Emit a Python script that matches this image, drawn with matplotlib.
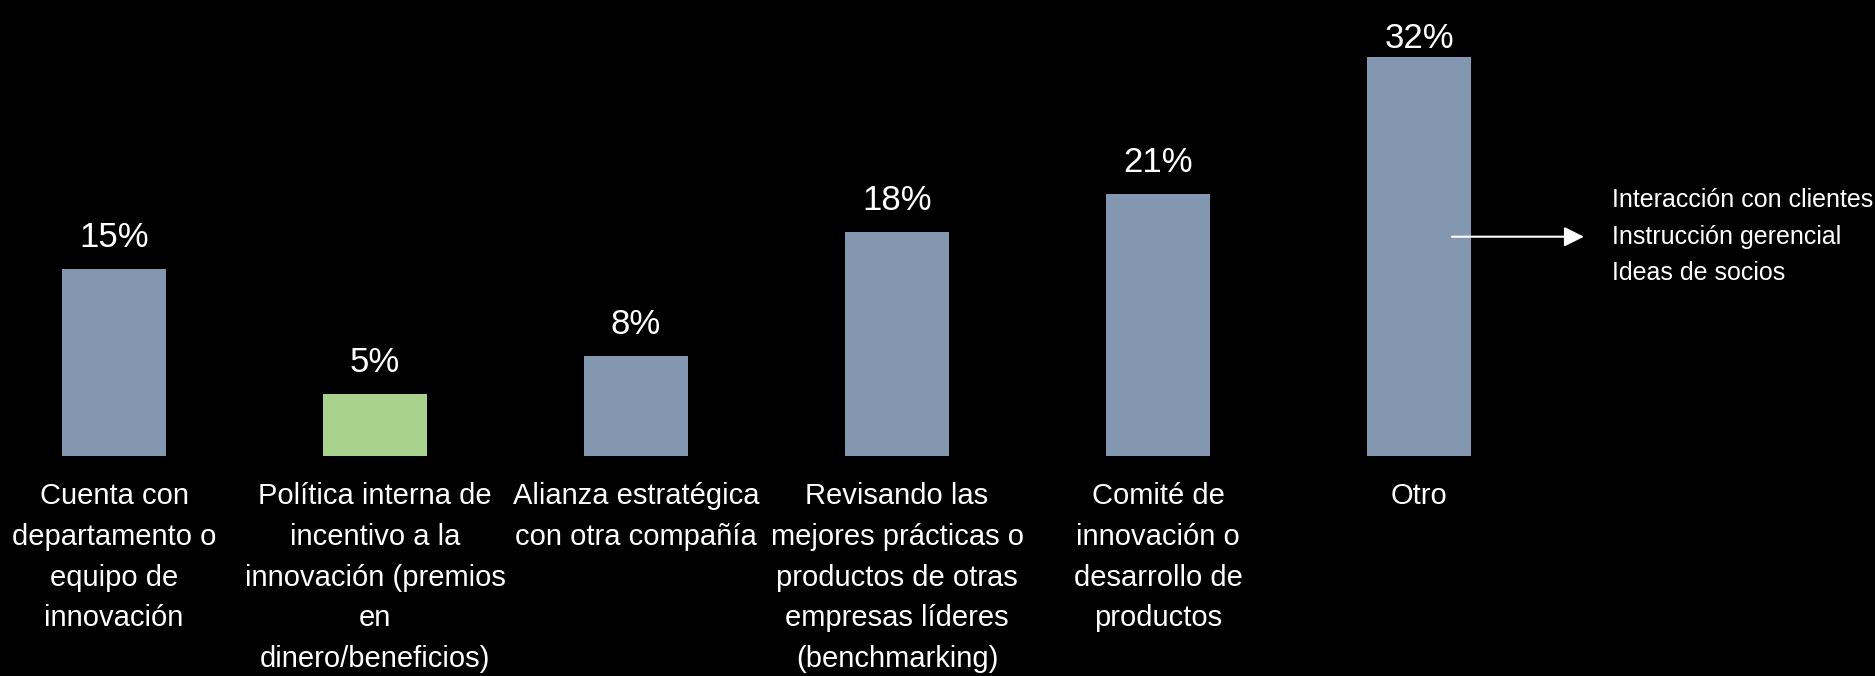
import matplotlib
matplotlib.use("Agg")
import matplotlib.pyplot as plt
from matplotlib import font_manager

categories = [
    "Cuenta con\ndepartamento o\nequipo de\ninnovación",
    "Política interna de\nincentivo a la\ninnovación (premios\nen\ndinero/beneficios)",
    "Alianza estratégica\ncon otra compañía",
    "Revisando las\nmejores prácticas o\nproductos de otras\nempresas líderes\n(benchmarking)",
    "Comité de\ninnovación o\ndesarrollo de\nproductos",
    "Otro",
]
values = [15, 5, 8, 18, 21, 32]
value_labels = ["15%", "5%", "8%", "18%", "21%", "32%"]
otro_details = ["Interacción con clientes", "Instrucción gerencial", "Ideas de socios"]

names = {f.name for f in font_manager.fontManager.ttflist}
fam = "Liberation Sans Narrow" if "Liberation Sans Narrow" in names else "Liberation Sans"
plt.rcParams["font.family"] = [fam, "DejaVu Sans"]

blue = "#8497B0"
green = "#A9D18E"
colors = [blue, green, blue, blue, blue, blue]

fig = plt.figure(figsize=(18.75, 6.76), dpi=100, facecolor="black")
ax = fig.add_axes([0, 0, 1, 1], facecolor="black")
x = list(range(len(categories)))
ax.bar(x, values, width=0.4, color=colors, edgecolor="none")

x0 = -114 / 261
ax.set_xlim(x0, x0 + 1875 / 261)
ax.set_ylim(-220 / 12.46, 456 / 12.46)
ax.axis("off")

vlabels = []
for xi, v, lab in zip(x, values, value_labels):
    t = ax.annotate(lab, xy=(xi, v), xytext=(0, 15), textcoords="offset pixels",
                    ha="center", va="bottom", color="white", fontsize=25)
    vlabels.append(t)

# keep value labels inside the top margin (as in the original slide)
fig.canvas.draw()
renderer = fig.canvas.get_renderer()
H = fig.bbox.height
for t in vlabels:
    bb = t.get_window_extent(renderer)
    limit = H - 22
    if bb.y1 > limit:
        dy = bb.y1 - limit
        ox, oy = t.xyann
        t.xyann = (ox, oy - dy)

for xi, cat in zip(x, categories):
    ax.annotate(cat, xy=(xi, 0), xytext=(0, -26), textcoords="offset pixels",
                ha="center", va="top", color="white", fontsize=21,
                linespacing=1.58)

ay = 17.6
ax.annotate("", xy=(5.632, ay), xytext=(5.126, ay),
            arrowprops=dict(arrowstyle="-|>", color="white", lw=1.5,
                            mutation_scale=30, shrinkA=0, shrinkB=0))
ax.text(5.74, ay, "\n".join(otro_details), ha="left", va="center",
        color="white", fontsize=18, linespacing=1.65)

fig.savefig("out.png", dpi=100, facecolor="black")
